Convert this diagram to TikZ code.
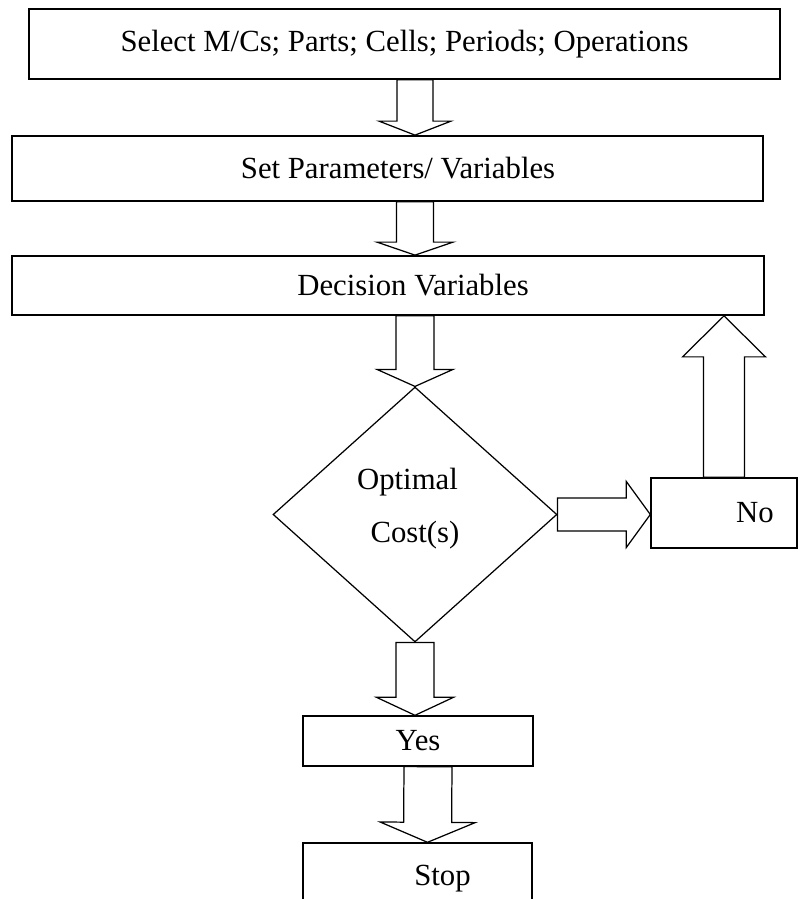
\documentclass[tikz,border=0pt]{standalone}
\usepackage{fontspec}
\setmainfont{Liberation Serif}
\usetikzlibrary{calc, shapes.geometric}

\newcommand{\labelfont}{\fontsize{17.5}{20.5}\selectfont}
\newcommand{\unitpx}{0.02cm}
% hollow block arrow: tail, tip, shaft half width, head half width, head length
\newcommand{\blockarrow}[5]{%
  \coordinate (ba tail) at (#1);
  \coordinate (ba tip) at (#2);
  \coordinate (ba neck) at ($(ba tip)!#5*\unitpx!(ba tail)$);
  \draw[arrowbody] ($(ba tail)!#3*\unitpx!90:(ba tip)$)
    -- ($(ba neck)!#3*\unitpx!90:(ba tip)$)
    -- ($(ba neck)!#4*\unitpx!90:(ba tip)$)
    -- (ba tip)
    -- ($(ba neck)!#4*\unitpx!-90:(ba tip)$)
    -- ($(ba neck)!#3*\unitpx!-90:(ba tip)$)
    -- ($(ba tail)!#3*\unitpx!-90:(ba tip)$) -- cycle;}

\begin{document}
\begin{tikzpicture}[
  x=0.02cm, y=-0.02cm,
  box/.style={draw, line width=1pt, inner sep=0pt, text centered, font=\labelfont},
  smallbox/.style={box, line width=0.8pt},
  decision/.style={draw, diamond, line width=0.7pt, inner sep=0pt, align=center, font=\labelfont},
  arrowbody/.style={draw, line width=0.7pt, line join=miter},
]
\clip (0,0) rectangle (800,899);

% Input boxes
\node[box, minimum width=15.02cm, minimum height=1.4cm] (sel) at (404.5,44)
  {Select M/Cs; Parts; Cells; Periods; Operations};
\node[box, minimum width=15.02cm, minimum height=1.3cm] (par) at (387.5,168.5)
  {\hspace*{0.42cm}Set Parameters/ Variables};
\node[box, minimum width=15.04cm, minimum height=1.18cm] (dec) at (388,285.5)
  {\hspace*{1cm}Decision Variables};

% Decision
\node[decision, minimum width=5.68cm, minimum height=5.1cm] (opt) at (415,514.5)
  {Optimal\hspace*{0.3cm}\\[10pt]Cost(s)\\[-0.35cm]\mbox{}};

% Outcomes
\node[smallbox, minimum width=2.92cm, minimum height=1.4cm] (no) at (724,513) {\hspace*{1.24cm}No};
\node[smallbox, minimum width=4.6cm, minimum height=1cm] (yes) at (418,741) {Yes};
\node[smallbox, minimum width=4.58cm, minimum height=1.44cm] (stop) at (417.5,879) {\hspace*{1cm}Stop};

% Arrows
\blockarrow{sel.south -| opt.north}{par.north -| opt.north}{18}{36}{14}
\blockarrow{par.south -| opt.north}{dec.north -| opt.north}{18.5}{38}{13}
\blockarrow{dec.south -| opt.north}{opt.north}{19}{38}{17}
\blockarrow{opt.east}{no.west |- opt.east}{16.5}{33}{24}
\blockarrow{no.north}{dec.south -| no.north}{20.5}{41.5}{41}
\blockarrow{opt.south}{yes.north -| opt.south}{19}{38.5}{18}
\blockarrow{[xshift=0.2cm]yes.south}{[xshift=0.2cm]stop.north}{24}{47.5}{20}

\end{tikzpicture}
\end{document}
